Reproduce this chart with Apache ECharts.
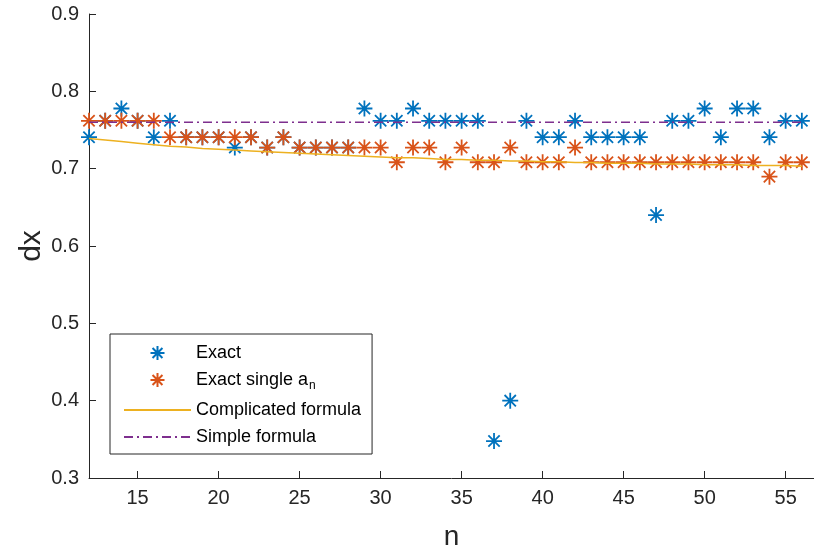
<!DOCTYPE html>
<html>
<head>
<meta charset="utf-8">
<script src="https://cdn.jsdelivr.net/npm/echarts@6/dist/echarts.min.js"></script>
<style>
html,body{margin:0;padding:0;background:#fff;}
#chart{width:814px;height:547px;}
</style>
</head>
<body>
<div id="chart"></div>
<script>
// ---- data ----
var nValues = [12,13,14,15,16,17,18,19,20,21,22,23,24,25,26,27,28,29,30,31,32,33,34,
               35,36,37,38,39,40,41,42,43,44,45,46,47,48,49,50,51,52,53,54,55,56];
var exact = [0.7407,0.7619,0.7778,0.7619,0.7407,0.7619,0.7407,0.7407,0.7407,0.7273,0.7407,0.7273,0.7407,0.7273,0.7273,
             0.7273,0.7273,0.7778,0.7619,0.7619,0.7778,0.7619,0.7619,0.7619,0.7619,0.3478,0.4000,0.7619,0.7407,0.7407,
             0.7619,0.7407,0.7407,0.7407,0.7407,0.6400,0.7619,0.7619,0.7778,0.7407,0.7778,0.7778,0.7407,0.7619,0.7619];
var exactSingle = [0.7619,0.7619,0.7619,0.7619,0.7619,0.7407,0.7407,0.7407,0.7407,0.7407,0.7407,0.7273,0.7407,0.7273,0.7273,
                   0.7273,0.7273,0.7273,0.7273,0.7083,0.7273,0.7273,0.7083,0.7273,0.7083,0.7083,0.7273,0.7083,0.7083,0.7083,
                   0.7273,0.7083,0.7083,0.7083,0.7083,0.7083,0.7083,0.7083,0.7083,0.7083,0.7083,0.7083,0.6897,0.7083,0.7083];
var complicated = [0.739,0.737,0.735,0.733,0.731,0.729,0.728,0.726,0.725,0.724,0.723,0.722,0.721,0.720,0.719,
                   0.718,0.717,0.716,0.715,0.714,0.714,0.713,0.712,0.712,0.711,0.711,0.710,0.710,0.709,0.709,
                   0.708,0.708,0.707,0.707,0.707,0.706,0.706,0.706,0.705,0.705,0.705,0.704,0.704,0.704,0.703];
var simpleN = [12, 56];
var simple = [0.76, 0.76];
var xTicks = [15,20,25,30,35,40,45,50,55];

function pairs(xs, ys){ return xs.map(function(x,i){ return [x, ys[i]]; }); }

var star = 'path://M0,-1L0,1M-1,0L1,0M-0.707,-0.707L0.707,0.707M-0.707,0.707L0.707,-0.707';
var FONT = 'Liberation Sans, Arial, Helvetica, sans-serif';
var AX = '#262626';

var chart = echarts.init(document.getElementById('chart'), null, {renderer:'canvas'});
chart.setOption({
  animation: false,
  backgroundColor: '#ffffff',
  grid: {left: 89, top: 14, right: 0, bottom: 69, containLabel: false, outerBoundsMode: 'none'},
  xAxis: {
    type: 'value', min: 12, max: 56.75,
    name: 'n', nameLocation: 'middle', nameGap: 45, nameMoveOverlap: false,
    nameTextStyle: {fontFamily: FONT, fontSize: 28, color: AX},
    axisLine: {show: true, onZero: false, lineStyle: {color: AX, width: 1}},
    axisTick: {show: true, inside: true, length: 7, customValues: xTicks, lineStyle: {color: AX}},
    axisLabel: {customValues: xTicks, fontFamily: FONT, fontSize: 20, color: AX, margin: 10},
    splitLine: {show: false}
  },
  yAxis: {
    type: 'value', min: 0.3, max: 0.9, interval: 0.1,
    name: 'dx', nameLocation: 'middle', nameGap: 42, nameRotate: 90, nameMoveOverlap: false,
    nameTextStyle: {fontFamily: FONT, fontSize: 30, color: AX},
    axisLine: {show: true, onZero: false, lineStyle: {color: AX, width: 1}},
    axisTick: {show: true, inside: true, length: 7, lineStyle: {color: AX}},
    axisLabel: {fontFamily: FONT, fontSize: 20, color: AX, margin: 10,
      formatter: function(v){ return v.toFixed(1); }},
    splitLine: {show: false}
  },
  legend: {
    orient: 'vertical', left: 110, top: 334,
    padding: [10, 11, 8, 13],
    itemGap: 9, itemWidth: 67, itemHeight: 14,
    borderColor: AX, borderWidth: 1, backgroundColor: '#fff',
    textStyle: {fontFamily: FONT, fontSize: 18, color: '#000',
      rich: {sub: {fontSize: 12, verticalAlign: 'bottom', padding: [12,0,0,1], fontFamily: FONT, color: '#000'}}},
    formatter: function(name){
      if (name === 'Exact single a_n') return 'Exact single a{sub|n}';
      return name;
    },
    data: [
      {name: 'Exact', icon: star},
      {name: 'Exact single a_n', icon: star},
      {name: 'Complicated formula', itemStyle: {opacity: 0}},
      {name: 'Simple formula', itemStyle: {opacity: 0}}
    ]
  },
  series: [
    {name: 'Exact', type: 'scatter', data: pairs(nValues, exact),
     symbol: star, symbolSize: 16,
     itemStyle: {color: 'rgba(0,0,0,0)', borderColor: '#0072BD', borderWidth: 1.8, opacity: 1}},
    {name: 'Exact single a_n', type: 'scatter', data: pairs(nValues, exactSingle),
     symbol: star, symbolSize: 16,
     itemStyle: {color: 'rgba(0,0,0,0)', borderColor: '#D95319', borderWidth: 1.8, opacity: 1}},
    {name: 'Complicated formula', type: 'line', data: pairs(nValues, complicated),
     showSymbol: false, symbol: 'none', smooth: false,
     lineStyle: {color: '#EDB120', width: 1.5}, itemStyle: {color: '#EDB120'}},
    {name: 'Simple formula', type: 'line', data: pairs(simpleN, simple),
     showSymbol: false, symbol: 'none',
     lineStyle: {color: '#7E2F8E', width: 1.5, type: [9, 4, 2, 4]}, itemStyle: {color: '#7E2F8E'}}
  ]
});
</script>
</body>
</html>
